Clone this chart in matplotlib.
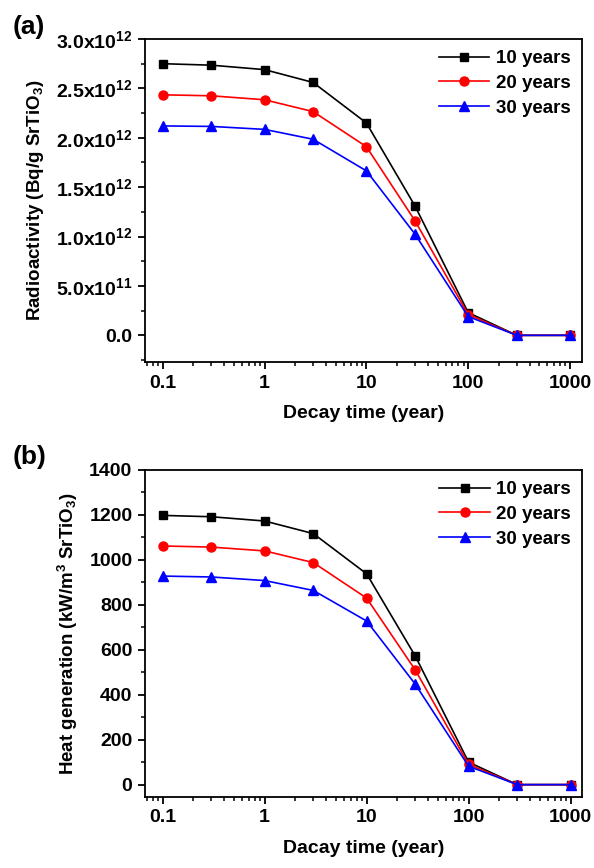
import numpy as np
import matplotlib
matplotlib.use("Agg")
import matplotlib.pyplot as plt
from matplotlib.ticker import FixedLocator, MultipleLocator, LogLocator, NullFormatter, FuncFormatter

plt.rcParams['font.family'] = ['Liberation Sans', 'DejaVu Sans']
plt.rcParams['font.weight'] = 'bold'
plt.rcParams['axes.labelweight'] = 'bold'
plt.rcParams['mathtext.fontset'] = 'custom'
plt.rcParams['mathtext.rm'] = 'Liberation Sans:bold'
plt.rcParams['mathtext.it'] = 'Liberation Sans:bold'
plt.rcParams['mathtext.bf'] = 'Liberation Sans:bold'
plt.rcParams['mathtext.default'] = 'regular'

# decay times (years)
decay_time = [0.1, 0.3, 1, 3, 10, 30, 100, 300, 1000]
series_names = ['10 years', '20 years', '30 years']

# radioactivity, units of 1e12 Bq/g SrTiO3
activity_10 = [2.75, 2.735, 2.69, 2.56, 2.15, 1.31, 0.23, 0.0, 0.0]
activity_20 = [2.435, 2.425, 2.385, 2.265, 1.91, 1.16, 0.21, 0.0, 0.0]
activity_30 = [2.12, 2.115, 2.085, 1.985, 1.665, 1.025, 0.19, 0.0, 0.0]

# heat generation, kW/m3 SrTiO3
heat_10 = [1198, 1192, 1173, 1117, 938, 572, 100, 0, 0]
heat_20 = [1062, 1057, 1040, 988, 830, 510, 90, 0, 0]
heat_30 = [928, 924, 908, 864, 728, 447, 82, 0, 0]

colors = ['black', 'red', 'blue']
markers = ['s', 'o', '^']
msizes = [6, 6.5, 7]


def sci_label(v, pos):
    if v == 0:
        return '0.0'
    exp = int(np.floor(np.log10(abs(v))))
    mant = v / 10**exp
    return f'{mant:.1f}x10$^{{{exp}}}$'


def style_axes(ax):
    for sp in ax.spines.values():
        sp.set_linewidth(1.3)
    ax.set_xscale('log')
    ax.set_xlim(0.067, 1310)
    ax.xaxis.set_major_locator(FixedLocator([0.1, 1, 10, 100, 1000]))
    ax.xaxis.set_major_formatter(FuncFormatter(lambda v, p: f'{v:g}'))
    ax.xaxis.set_minor_locator(LogLocator(base=10, subs=np.arange(2, 10), numticks=20))
    ax.xaxis.set_minor_formatter(NullFormatter())
    ax.tick_params(which='major', direction='out', length=5, width=1.3, labelsize=14, pad=4,
                   top=False, right=False)
    ax.tick_params(which='minor', direction='out', length=3, width=1.1, top=False, right=False)


fig = plt.figure(figsize=(5.94, 8.68), dpi=100)

# (a) radioactivity
ax1 = fig.add_axes([145/594, 1 - 362/868, 437/594, 323/868])
for vals, name, c, m, ms in zip([activity_10, activity_20, activity_30], series_names, colors, markers, msizes):
    ax1.plot(decay_time, np.array(vals) * 1e12, color=c, marker=m, ms=ms, lw=1.2, label=name)
style_axes(ax1)
ax1.set_ylim(-0.27e12, 3.0e12)
ax1.yaxis.set_major_locator(MultipleLocator(0.5e12))
ax1.yaxis.set_minor_locator(MultipleLocator(0.25e12))
ax1.yaxis.set_major_formatter(FuncFormatter(sci_label))
ax1.set_xlabel('Decay time (year)', fontsize=14, labelpad=10)
ax1.set_ylabel('Radioactivity (Bq/g SrTiO$_3$)', fontsize=13.5, labelpad=7)
ax1.legend(loc='upper right', frameon=False, fontsize=13.5, handlelength=2.7,
           handletextpad=0.35, labelspacing=0.4, borderaxespad=0.2)

# (b) heat generation
ax2 = fig.add_axes([145/594, 1 - 797/868, 437.5/594, 327/868])
for vals, name, c, m, ms in zip([heat_10, heat_20, heat_30], series_names, colors, markers, msizes):
    ax2.plot(decay_time, vals, color=c, marker=m, ms=ms, lw=1.2, label=name)
style_axes(ax2)
ax2.set_ylim(-55, 1400)
ax2.yaxis.set_major_locator(MultipleLocator(200))
ax2.yaxis.set_minor_locator(MultipleLocator(100))
ax2.set_xlabel('Dacay time (year)', fontsize=14, labelpad=10)
ax2.set_ylabel('Heat generation (kW/m$^3$ SrTiO$_3$)', fontsize=13.5, labelpad=7)
ax2.legend(loc='upper right', frameon=False, fontsize=13.5, handlelength=2.7,
           handletextpad=0.35, labelspacing=0.4, borderaxespad=0.2)

fig.text(13/594, 1 - 15/868, '(a)', fontsize=19, fontweight='bold', va='top', ha='left')
fig.text(13/594, 1 - 445/868, '(b)', fontsize=19, fontweight='bold', va='top', ha='left')

fig.savefig('out.png', dpi=100)
